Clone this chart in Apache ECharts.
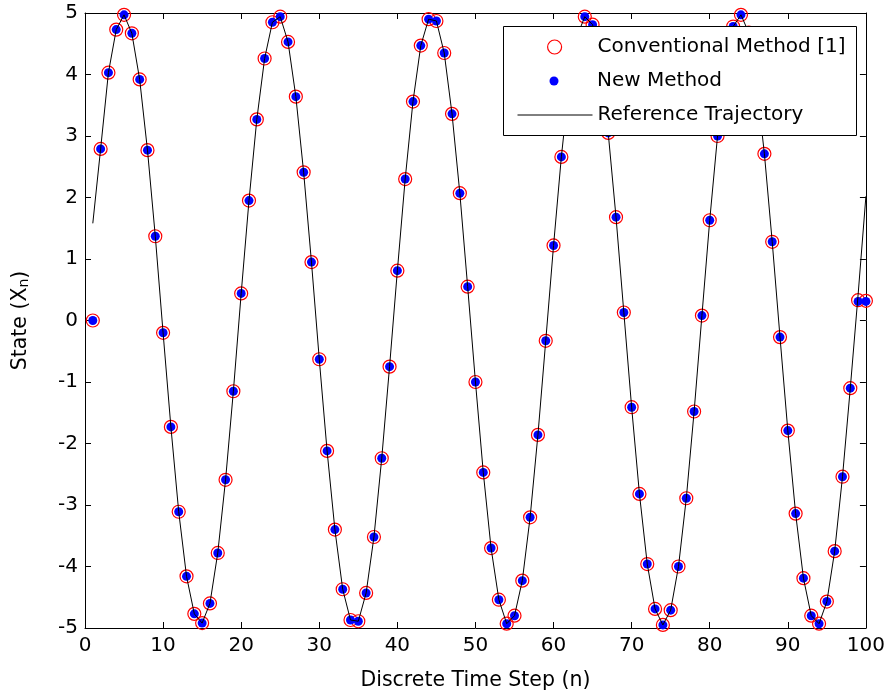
<!DOCTYPE html>
<html>
<head>
<meta charset="utf-8">
<script src="https://cdn.jsdelivr.net/npm/echarts@6/dist/echarts.min.js"></script>
<style>
html,body{margin:0;padding:0;background:#fff;}
#chart{width:888px;height:698px;}
</style>
</head>
<body>
<div id="chart"></div>
<script>
// Discrete time steps n = 1..100
const steps = Array.from({length: 100}, (_, i) => i + 1);

// New Method estimates (blue dots)
const newMethod = [
  0.00, 2.79, 4.03, 4.73, 4.97, 4.67, 3.92, 2.77, 1.37, -0.20,
  -1.73, -3.11, -4.16, -4.77, -4.92, -4.60, -3.78, -2.59, -1.15, 0.44,
  1.95, 3.27, 4.26, 4.85, 4.94, 4.53, 3.64, 2.41, 0.95, -0.63,
  -2.12, -3.40, -4.37, -4.87, -4.89, -4.43, -3.52, -2.24, -0.75, 0.81,
  2.30, 3.56, 4.47, 4.90, 4.87, 4.35, 3.36, 2.07, 0.55, -1.00,
  -2.47, -3.70, -4.54, -4.93, -4.80, -4.23, -3.20, -1.86, -0.33, 1.22,
  2.66, 3.85, 4.62, 4.94, 4.81, 4.18, 3.05, 1.68, 0.13, -1.41,
  -2.82, -3.96, -4.69, -4.95, -4.71, -4.00, -2.89, -1.48, 0.08, 1.63,
  3.00, 4.12, 4.78, 4.97, 4.68, 3.85, 2.71, 1.28, -0.27, -1.79,
  -3.14, -4.19, -4.80, -4.93, -4.57, -3.75, -2.54, -1.10, 0.31, 0.31
];

// Conventional Method [1] estimates (red open circles)
const conventional = [
  0.00, 2.79, 4.03, 4.73, 4.97, 4.67, 3.92, 2.77, 1.37, -0.20,
  -1.73, -3.11, -4.16, -4.77, -4.92, -4.60, -3.78, -2.59, -1.15, 0.44,
  1.95, 3.27, 4.26, 4.85, 4.94, 4.53, 3.64, 2.41, 0.95, -0.63,
  -2.12, -3.40, -4.37, -4.87, -4.89, -4.43, -3.52, -2.24, -0.75, 0.81,
  2.30, 3.56, 4.47, 4.90, 4.87, 4.35, 3.36, 2.07, 0.55, -1.00,
  -2.47, -3.70, -4.54, -4.93, -4.80, -4.23, -3.20, -1.86, -0.33, 1.22,
  2.66, 3.85, 4.62, 4.94, 4.81, 4.18, 3.05, 1.68, 0.13, -1.41,
  -2.82, -3.96, -4.69, -4.95, -4.71, -4.00, -2.89, -1.48, 0.08, 1.63,
  3.00, 4.12, 4.78, 4.97, 4.68, 3.85, 2.71, 1.28, -0.27, -1.79,
  -3.14, -4.19, -4.80, -4.93, -4.57, -3.75, -2.54, -1.10, 0.33, 0.32
];

// Reference trajectory (black line)
const reference = [
  1.58, 2.79, 4.03, 4.73, 4.97, 4.67, 3.92, 2.77, 1.37, -0.20,
  -1.73, -3.11, -4.16, -4.77, -4.92, -4.60, -3.78, -2.59, -1.15, 0.44,
  1.95, 3.27, 4.26, 4.85, 4.94, 4.53, 3.64, 2.41, 0.95, -0.63,
  -2.12, -3.40, -4.37, -4.87, -4.89, -4.43, -3.52, -2.24, -0.75, 0.81,
  2.30, 3.56, 4.47, 4.90, 4.87, 4.35, 3.36, 2.07, 0.55, -1.00,
  -2.47, -3.70, -4.54, -4.93, -4.80, -4.23, -3.20, -1.86, -0.33, 1.22,
  2.66, 3.85, 4.62, 4.94, 4.81, 4.18, 3.05, 1.68, 0.13, -1.41,
  -2.82, -3.96, -4.69, -4.95, -4.71, -4.00, -2.89, -1.48, 0.08, 1.63,
  3.00, 4.12, 4.78, 4.97, 4.68, 3.85, 2.71, 1.28, -0.27, -1.79,
  -3.14, -4.19, -4.80, -4.93, -4.57, -3.75, -2.54, -1.10, 0.42, 2.02
];

const seriesNames = ['Conventional Method [1]', 'New Method', 'Reference Trajectory'];
const xLabelName = 'Discrete Time Step (n)';

const FONT = '"DejaVu Sans", Verdana, sans-serif';
const chart = echarts.init(document.getElementById('chart'), null, {renderer: 'canvas'});

const pair = arr => steps.map((n, i) => [n, arr[i]]);

const axisCommon = {
  axisLine: {show: true, onZero: false, lineStyle: {color: '#000', width: 1}},
  axisTick: {show: true, inside: true, length: 6, lineStyle: {color: '#000', width: 1}},
  splitLine: {show: false}
};

const legendCommon = {
  orient: 'vertical',
  padding: 0,
  itemWidth: 76,
  selectedMode: false,
  z: 10,
  textStyle: {fontFamily: FONT, fontSize: 20, color: '#000', lineHeight: 22}
};

const option = {
  animation: false,
  backgroundColor: '#fff',
  grid: {left: 85, right: 22, top: 13, bottom: 70, containLabel: false},
  xAxis: [
    Object.assign({}, axisCommon, {
      type: 'value', min: 0, max: 100, interval: 10, position: 'bottom',
      name: xLabelName, nameLocation: 'middle', nameGap: 42,
      nameTextStyle: {fontFamily: FONT, fontSize: 20.5, color: '#000'},
      axisLabel: {fontFamily: FONT, fontSize: 20, color: '#000', margin: 8}
    }),
    Object.assign({}, axisCommon, {
      type: 'value', min: 0, max: 100, interval: 10, position: 'top',
      axisLabel: {show: false}
    })
  ],
  yAxis: [
    Object.assign({}, axisCommon, {
      type: 'value', min: -5, max: 5, interval: 1, position: 'left',
      name: '{a|State (X}{s|n}{a|)}', nameLocation: 'middle', nameGap: 54, nameRotate: 90,
      nameTextStyle: {
        rich: {
          a: {fontFamily: FONT, fontSize: 20.5, color: '#000', lineHeight: 22, verticalAlign: 'bottom'},
          s: {fontFamily: FONT, fontSize: 14, color: '#000', lineHeight: 2, verticalAlign: 'bottom'}
        }
      },
      axisLabel: {fontFamily: FONT, fontSize: 20, color: '#000', margin: 7}
    }),
    Object.assign({}, axisCommon, {
      type: 'value', min: -5, max: 5, interval: 1, position: 'right',
      axisLabel: {show: false}
    })
  ],
  legend: [
    Object.assign({}, legendCommon, {
      left: 547, top: 36, itemHeight: 14,
      data: [{name: seriesNames[0], icon: 'circle',
        itemStyle: {color: 'rgba(0,0,0,0)', borderColor: '#ff0000', borderWidth: 1.2, opacity: 1}}]
    }),
    Object.assign({}, legendCommon, {
      left: 549.5, top: 70, itemHeight: 9,
      data: [{name: seriesNames[1], icon: 'circle', itemStyle: {color: '#0000ff', opacity: 1}}]
    }),
    Object.assign({}, legendCommon, {
      left: 517, top: 104, itemHeight: 14, itemWidth: 75,
      data: [{name: seriesNames[2],
        itemStyle: {color: 'rgba(0,0,0,0)', borderColor: 'rgba(0,0,0,0)', borderWidth: 0, opacity: 0},
        lineStyle: {color: '#000', width: 1, opacity: 1}}]
    })
  ],
  graphic: [{
    type: 'rect', z: 8,
    shape: {x: 503.5, y: 26.5, width: 353, height: 109},
    style: {fill: '#fff', stroke: '#000', lineWidth: 1}
  }],
  series: [
    {
      name: seriesNames[0], type: 'scatter', xAxisIndex: 0, yAxisIndex: 0,
      data: pair(conventional), symbol: 'circle', symbolSize: 13, z: 2,
      itemStyle: {color: 'rgba(0,0,0,0)', borderColor: '#ff0000', borderWidth: 1.2, opacity: 1},
      emphasis: {disabled: true}
    },
    {
      name: seriesNames[1], type: 'scatter', xAxisIndex: 0, yAxisIndex: 0,
      data: pair(newMethod), symbol: 'circle', symbolSize: 9, z: 3,
      itemStyle: {color: '#0000ff', opacity: 1},
      emphasis: {disabled: true}
    },
    {
      name: seriesNames[2], type: 'line', xAxisIndex: 0, yAxisIndex: 0,
      data: pair(reference), symbol: 'none', showSymbol: false, z: 4,
      lineStyle: {color: '#000', width: 1},
      itemStyle: {color: '#000'},
      emphasis: {disabled: true}
    }
  ]
};
chart.setOption(option);
</script>
</body>
</html>
